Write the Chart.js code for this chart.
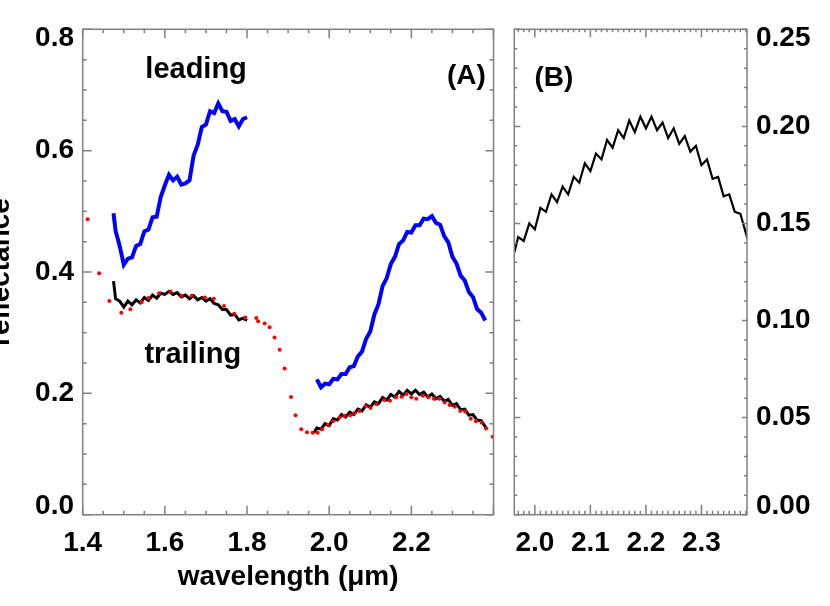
<!DOCTYPE html>
<html>
<head>
<meta charset="utf-8">
<script src="https://cdn.jsdelivr.net/npm/chart.js@4.4.1/dist/chart.umd.min.js"></script>
<style>
  html, body { margin: 0; padding: 0; background: #fff; overflow: hidden; }
  body { width: 830px; height: 606px; position: relative; }
  #panel-a { position: absolute; left: -20px; top: 0; }
  #panel-b { position: absolute; left: 505px; top: 0; }
</style>
</head>
<body>
<canvas id="panel-a" width="525" height="606"></canvas>
<canvas id="panel-b" width="325" height="606"></canvas>
<script>
// wavelength grids (micron)
const waveShort = [1.475, 1.48, 1.49, 1.50, 1.51, 1.52, 1.53, 1.54, 1.55, 1.56, 1.57, 1.58,
  1.59, 1.60, 1.61, 1.62, 1.63, 1.64, 1.65, 1.66, 1.67, 1.68, 1.69, 1.70, 1.71, 1.72, 1.73,
  1.74, 1.75, 1.76, 1.77, 1.78, 1.79, 1.80];
const waveLong = [1.97, 1.98, 1.99, 2.00, 2.01, 2.02, 2.03, 2.04, 2.05, 2.06, 2.07, 2.08,
  2.09, 2.10, 2.11, 2.12, 2.13, 2.14, 2.15, 2.16, 2.17, 2.18, 2.19, 2.20, 2.21, 2.22, 2.23,
  2.24, 2.25, 2.26, 2.27, 2.28, 2.29, 2.30, 2.31, 2.32, 2.33, 2.34, 2.35, 2.36, 2.37, 2.38];
const waveTrail = [1.963, 1.97, 1.98, 1.99, 2.00, 2.01, 2.02, 2.03, 2.04, 2.05, 2.06, 2.07,
  2.08, 2.09, 2.10, 2.11, 2.12, 2.13, 2.14, 2.15, 2.16, 2.17, 2.18, 2.19, 2.20, 2.21, 2.22,
  2.23, 2.24, 2.25, 2.26, 2.27, 2.28, 2.29, 2.30, 2.31, 2.32, 2.33, 2.34, 2.35, 2.36, 2.37,
  2.38, 2.383];

// leading hemisphere (blue)
const leadingShort = [0.497, 0.468, 0.443, 0.412, 0.422, 0.424, 0.443, 0.446, 0.467, 0.470,
  0.490, 0.491, 0.524, 0.543, 0.560, 0.551, 0.557, 0.544, 0.546, 0.551, 0.592, 0.610, 0.639,
  0.643, 0.665, 0.662, 0.678, 0.665, 0.664, 0.649, 0.652, 0.640, 0.652, 0.655];
const leadingLong = [0.223, 0.210, 0.216, 0.215, 0.224, 0.223, 0.232, 0.232, 0.243, 0.245,
  0.261, 0.269, 0.290, 0.302, 0.330, 0.347, 0.377, 0.390, 0.413, 0.425, 0.446, 0.452, 0.466,
  0.465, 0.477, 0.477, 0.488, 0.487, 0.492, 0.481, 0.478, 0.459, 0.449, 0.425, 0.414, 0.394,
  0.386, 0.367, 0.359, 0.339, 0.333, 0.320];

// trailing hemisphere (black)
const trailingShort = [0.385, 0.356, 0.352, 0.342, 0.352, 0.346, 0.354, 0.349, 0.358, 0.353,
  0.362, 0.357, 0.365, 0.363, 0.368, 0.363, 0.366, 0.359, 0.362, 0.356, 0.361, 0.354, 0.358,
  0.352, 0.356, 0.348, 0.346, 0.338, 0.338, 0.329, 0.330, 0.321, 0.324, 0.320];
const trailingLong = [0.135, 0.143, 0.141, 0.150, 0.147, 0.158, 0.156, 0.165, 0.161, 0.169,
  0.165, 0.174, 0.171, 0.181, 0.177, 0.186, 0.183, 0.193, 0.189, 0.198, 0.194, 0.203, 0.197,
  0.205, 0.199, 0.205, 0.198, 0.202, 0.194, 0.199, 0.191, 0.195, 0.187, 0.190, 0.180, 0.183,
  0.173, 0.174, 0.164, 0.165, 0.156, 0.155, 0.145, 0.142];

// model spectrum (red dots)
const modelWave = [1.412, 1.440, 1.465, 1.494, 1.516, 1.5435, 1.560, 1.586, 1.614, 1.641,
  1.665, 1.6975, 1.719, 1.744, 1.769, 1.796, 1.8225, 1.827, 1.843, 1.855, 1.867, 1.8795,
  1.8916, 1.907, 1.918, 1.932, 1.946, 1.960, 1.972, 1.983, 1.997, 2.0095, 2.0256, 2.0376,
  2.051, 2.0617, 2.0737, 2.089, 2.101, 2.115, 2.134, 2.148, 2.163, 2.176, 2.188, 2.200,
  2.212, 2.228, 2.242, 2.255, 2.2685, 2.281, 2.293, 2.306, 2.319, 2.331, 2.3447, 2.357,
  2.371, 2.382, 2.398];
const modelRefl = [0.487, 0.398, 0.352, 0.333, 0.3385, 0.350, 0.357, 0.365, 0.368, 0.361,
  0.361, 0.358, 0.356, 0.344, 0.331, 0.325, 0.324, 0.319, 0.315, 0.309, 0.292, 0.272, 0.241,
  0.194, 0.164, 0.141, 0.136, 0.135, 0.135, 0.141, 0.148, 0.154, 0.1605, 0.163, 0.164, 0.167,
  0.171, 0.179, 0.176, 0.182, 0.189, 0.188, 0.1935, 0.1945, 0.199, 0.1935, 0.191, 0.196,
  0.1935, 0.191, 0.191, 0.185, 0.181, 0.178, 0.171, 0.170, 0.158, 0.154, 0.152, 0.142, 0.1285];

const FONT = "'Liberation Sans', Arial, Helvetica, sans-serif";
Chart.defaults.font.family = FONT;
Chart.defaults.font.weight = "bold";
Chart.defaults.color = "#000";
Chart.defaults.animation = false;

function isMajor(v, step) {
  const q = v / step;
  return Math.abs(q - Math.round(q)) < 1e-6;
}

function toPoints(xs, ys) {
  return xs.map((x, i) => ({ x, y: ys[i] }));
}

function spectrum(xs, ys, color, width) {
  return {
    data: toPoints(xs, ys),
    borderColor: color,
    borderWidth: width,
    borderJoinStyle: "miter",
    pointRadius: 0,
    tension: 0,
    fill: false,
  };
}

// frame + inward tick marks on all four sides
const frameTicks = {
  id: "frameTicks",
  afterDatasetsDraw(chart, args, o) {
    const { ctx, chartArea: a } = chart;
    const xs = chart.scales.x;
    const ys = chart.scales.y;
    ctx.save();
    ctx.strokeStyle = "#808080";
    ctx.lineWidth = 1.5;
    ctx.beginPath();
    xs.ticks.forEach((t) => {
      const px = xs.getPixelForValue(t.value);
      const m = isMajor(t.value, o.xStep) ? 0 : 1;
      ctx.moveTo(px, a.bottom);
      ctx.lineTo(px, a.bottom - o.bottom[m]);
      ctx.moveTo(px, a.top);
      ctx.lineTo(px, a.top + o.top[m]);
    });
    ys.ticks.forEach((t) => {
      const py = ys.getPixelForValue(t.value);
      const m = isMajor(t.value, o.yStep) ? 0 : 1;
      ctx.moveTo(a.left, py);
      ctx.lineTo(a.left + o.left[m], py);
      ctx.moveTo(a.right, py);
      ctx.lineTo(a.right - o.right[m], py);
    });
    ctx.stroke();
    ctx.strokeRect(a.left, a.top, a.right - a.left, a.bottom - a.top);
    ctx.restore();
  },
};

// text labels placed in data coordinates
const panelText = {
  id: "panelText",
  afterDraw(chart, args, o) {
    const { ctx } = chart;
    ctx.save();
    ctx.fillStyle = "#000";
    ctx.textAlign = "center";
    ctx.textBaseline = "alphabetic";
    (o.items || []).forEach((it) => {
      ctx.font = `bold ${it.size}px ${FONT}`;
      ctx.fillText(it.text, chart.scales.x.getPixelForValue(it.x), chart.scales.y.getPixelForValue(it.y));
    });
    ctx.restore();
  },
};

function yLabel(v, min, max, digits, step) {
  if (!isMajor(v, step)) return "";
  const s = v.toFixed(digits);
  if (Math.abs(v - max) < 1e-6) return ["", s];
  if (Math.abs(v - min) < 1e-6) return [s, ""];
  return s;
}

new Chart(document.getElementById("panel-a"), {
  type: "line",
  data: {
    datasets: [
      {
        data: toPoints(modelWave, modelRefl),
        showLine: false,
        pointRadius: 2,
        pointBorderWidth: 0,
        pointBackgroundColor: "#ff0000",
      },
      spectrum(waveShort, trailingShort, "#000000", 3),
      spectrum(waveTrail, trailingLong, "#000000", 3),
      spectrum(waveShort, leadingShort, "#0000ff", 4),
      spectrum(waveLong, leadingLong, "#0000ff", 4),
    ],
  },
  options: {
    responsive: false,
    layout: { padding: { left: 0, right: 6.7, top: 29.3, bottom: 0 } },
    plugins: {
      legend: { display: false },
      tooltip: { enabled: false },
      frameTicks: { xStep: 0.2, yStep: 0.2, bottom: [9, 4], top: [9, 4], left: [9, 4], right: [8, 4] },
      panelText: {
        items: [
          { text: "leading", x: 1.676, y: 0.719, size: 29 },
          { text: "trailing", x: 1.668, y: 0.2495, size: 29 },
          { text: "(A)", x: 2.334, y: 0.7098, size: 28 },
        ],
      },
    },
    scales: {
      x: {
        type: "linear",
        min: 1.4,
        max: 2.4,
        grid: { display: false, drawTicks: false },
        border: { display: false },
        ticks: {
          stepSize: 0.05,
          autoSkip: false,
          maxRotation: 0,
          includeBounds: false,
          padding: 11.5,
          font: { size: 28 },
          callback: (v) => (isMajor(v, 0.2) && v < 2.39 ? v.toFixed(1) : ""),
        },
        title: {
          display: true,
          text: "wavelength (μm)",
          font: { size: 28 },
          padding: { top: 0, bottom: 12 },
        },
        afterFit: (s) => {
          s.height = 91.3;
        },
      },
      y: {
        type: "linear",
        min: 0,
        max: 0.8,
        grid: { display: false, drawTicks: false },
        border: { display: false },
        ticks: {
          stepSize: 0.05,
          autoSkip: false,
          includeBounds: false,
          padding: 8.7,
          font: { size: 28, lineHeight: 0.62 },
          callback: (v) => yLabel(v, 0, 0.8, 1, 0.2),
        },
        title: {
          display: true,
          text: "reflectance",
          font: { size: 28 },
          padding: { top: 4, bottom: 0 },
        },
        afterFit: (s) => {
          s.width = 102.7;
        },
      },
    },
  },
  plugins: [frameTicks, panelText],
});

new Chart(document.getElementById("panel-b"), {
  type: "line",
  data: {
    datasets: [spectrum(waveTrail, trailingLong, "#000000", 2.2)],
  },
  options: {
    responsive: false,
    layout: { padding: { left: 9.3, right: 0, top: 29.3, bottom: 0 } },
    plugins: {
      legend: { display: false },
      tooltip: { enabled: false },
      frameTicks: { xStep: 0.1, yStep: 0.05, bottom: [10, 4], top: [8, 3], left: [6, 3], right: [5, 3] },
      panelText: { items: [{ text: "(B)", x: 2.0342, y: 0.221, size: 28 }] },
    },
    scales: {
      x: {
        type: "linear",
        min: 1.963,
        max: 2.382,
        grid: { display: false, drawTicks: false },
        border: { display: false },
        ticks: {
          stepSize: 0.01,
          autoSkip: false,
          maxRotation: 0,
          includeBounds: false,
          padding: 11.5,
          font: { size: 28 },
          callback: (v) => (isMajor(v, 0.1) ? v.toFixed(1) : ""),
        },
        afterFit: (s) => {
          s.height = 91.3;
        },
      },
      y: {
        type: "linear",
        position: "right",
        min: 0,
        max: 0.25,
        grid: { display: false, drawTicks: false },
        border: { display: false },
        ticks: {
          stepSize: 0.01,
          autoSkip: false,
          includeBounds: false,
          padding: 9,
          font: { size: 28, lineHeight: 0.62 },
          callback: (v) => yLabel(v, 0, 0.25, 2, 0.05),
        },
        afterFit: (s) => {
          s.width = 83;
        },
      },
    },
  },
  plugins: [frameTicks, panelText],
});
</script>
</body>
</html>
